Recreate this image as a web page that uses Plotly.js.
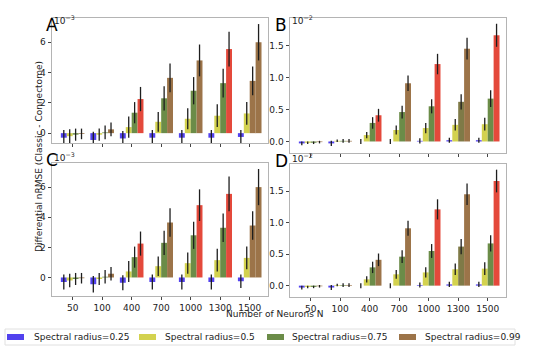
<!DOCTYPE html>
<html>
<head>
<meta charset="utf-8">
<script src="https://cdn.plot.ly/plotly-3.0.1.min.js"></script>
<style>html,body{margin:0;padding:0;background:#fff;}#chart{width:550px;height:350px;}</style>
</head>
<body>
<div id="chart"></div>
<script>
// Categories (number of neurons N)
const neurons = ['50', '100', '400', '700', '1000', '1300', '1500'];
const seriesNames = ['Spectral radius=0.25', 'Spectral radius=0.5', 'Spectral radius=0.75', 'Spectral radius=0.99'];

// Panels A and C: differential nRMSE, in units of 1e-3
const ac_sr025 = [-0.3, -0.45, -0.35, -0.3, -0.3, -0.3, -0.25];
const ac_sr025_err = [0.5, 0.55, 0.5, 0.5, 0.5, 0.5, 0.45];
const ac_sr05 = [-0.2, -0.1, 0.4, 0.75, 0.95, 1.15, 1.3];
const ac_sr05_err = [0.45, 0.4, 0.7, 0.65, 0.7, 0.75, 0.75];
const ac_sr075 = [-0.1, 0.05, 1.35, 2.3, 2.8, 3.3, 3.45];
const ac_sr075_err = [0.4, 0.45, 0.7, 0.8, 0.9, 0.95, 0.95];
const ac_sr099 = [-0.05, 0.25, 2.25, 3.65, 4.8, 5.55, 6.0];
const ac_sr099_err = [0.35, 0.45, 0.8, 0.95, 1.05, 1.15, 1.2];

// Panels B and D: differential nRMSE, in units of 1e-2
const bd_sr025 = [-0.03, -0.03, 0.0, 0.0, 0.01, 0.02, 0.02];
const bd_sr025_err = [0.03, 0.04, 0.04, 0.04, 0.04, 0.04, 0.04];
const bd_sr05 = [-0.02, 0.01, 0.1, 0.18, 0.21, 0.26, 0.27];
const bd_sr05_err = [0.02, 0.02, 0.05, 0.07, 0.08, 0.09, 0.1];
const bd_sr075 = [-0.02, 0.01, 0.29, 0.46, 0.55, 0.62, 0.67];
const bd_sr075_err = [0.02, 0.03, 0.09, 0.1, 0.11, 0.12, 0.13];
const bd_sr099 = [-0.01, 0.01, 0.41, 0.91, 1.21, 1.45, 1.66];
const bd_sr099_err = [0.02, 0.03, 0.1, 0.12, 0.16, 0.17, 0.18];

// Styles
const BLUE = '#5242ee', YELLOW = '#d3d24f', GREEN = '#6b8c48', BROWN = '#9c7449', RED = '#e4493b', OLIVE = '#7f7a47';
const panelColors = {
  A: [BLUE, YELLOW, [GREEN, GREEN, GREEN, GREEN, GREEN, GREEN, BROWN], [BROWN, BROWN, RED, BROWN, BROWN, RED, BROWN]],
  B: [BLUE, YELLOW, [GREEN, GREEN, GREEN, GREEN, GREEN, OLIVE, GREEN], [BROWN, BROWN, RED, BROWN, RED, BROWN, RED]],
  C: [BLUE, YELLOW, [GREEN, GREEN, GREEN, GREEN, GREEN, GREEN, BROWN], [BROWN, BROWN, RED, BROWN, RED, RED, BROWN]],
  D: [BLUE, YELLOW, [GREEN, GREEN, GREEN, GREEN, GREEN, OLIVE, GREEN], [BROWN, BROWN, BROWN, BROWN, RED, BROWN, RED]]
};
const legendColors = [BLUE, YELLOW, GREEN, BROWN];

const acVals = [ac_sr025, ac_sr05, ac_sr075, ac_sr099];
const acErrs = [ac_sr025_err, ac_sr05_err, ac_sr075_err, ac_sr099_err];
const bdVals = [bd_sr025, bd_sr05, bd_sr075, bd_sr099];
const bdErrs = [bd_sr025_err, bd_sr05_err, bd_sr075_err, bd_sr099_err];

const panels = [
  {key: 'A', x: 'x', y: 'y', vals: acVals, errs: acErrs},
  {key: 'B', x: 'x2', y: 'y2', vals: bdVals, errs: bdErrs},
  {key: 'C', x: 'x3', y: 'y3', vals: acVals, errs: acErrs},
  {key: 'D', x: 'x4', y: 'y4', vals: bdVals, errs: bdErrs}
];

const traces = [];
panels.forEach((p) => {
  for (let s = 0; s < 4; s++) {
    traces.push({
      type: 'bar',
      x: neurons,
      y: p.vals[s],
      xaxis: p.x,
      yaxis: p.y,
      name: seriesNames[s],
      showlegend: false,
      marker: {color: panelColors[p.key][s], line: {width: 0}},
      error_y: {type: 'data', array: p.errs[s], visible: true, color: '#1e1e1e', thickness: 1.3, width: 0},
      hoverinfo: 'skip'
    });
  }
});

const FONT = 'DejaVu Sans, sans-serif';
const tickFont = {family: FONT, size: 9, color: '#222'};
function xax(dom, showLabels) {
  return {
    domain: dom, type: 'category', range: [-0.7, 6.62], fixedrange: true,
    showline: true, mirror: true, linecolor: '#b4b4b4', linewidth: 1,
    ticks: 'outside', ticklen: 3, tickcolor: '#444', tickwidth: 1,
    showticklabels: showLabels, tickfont: tickFont, showgrid: false, zeroline: false
  };
}
function yax(dom, range, tv, fmt, anchor) {
  return {
    domain: dom, range: range, anchor: anchor, tickvals: tv, tickformat: fmt,
    showline: true, mirror: true, linecolor: '#b4b4b4', linewidth: 1,
    ticks: 'outside', ticklen: 3.5, tickcolor: '#444', tickwidth: 1,
    tickfont: tickFont, showgrid: false, zeroline: false
  };
}

const W = 550, H = 350;
const px = v => v / W, py = v => 1 - v / H;

// Custom legend (bottom row)
const legendPatchX = [7, 139, 267, 399];
const legendTextX = [32, 163, 290, 423];
const legendY = 337;
const shapes = [
  {type: 'rect', xref: 'paper', yref: 'paper', x0: px(5), x1: px(515), y0: py(345), y1: py(329),
   line: {color: '#e0e0e0', width: 1}, fillcolor: 'rgba(255,255,255,0)'}
];
const annotations = [];
for (let s = 0; s < 4; s++) {
  shapes.push({type: 'rect', xref: 'paper', yref: 'paper',
    x0: px(legendPatchX[s]), x1: px(legendPatchX[s] + 17), y0: py(legendY + 3), y1: py(legendY - 3),
    line: {width: 0}, fillcolor: legendColors[s]});
  annotations.push({text: seriesNames[s], x: px(legendTextX[s]), xanchor: 'left', y: py(legendY), yanchor: 'middle',
    xref: 'paper', yref: 'paper', showarrow: false, font: {family: FONT, size: 9, color: '#222'}});
}

const letterFont = {family: FONT, size: 17, color: '#000'};
const expFont = {family: FONT, size: 9, color: '#222'};
annotations.push(
  {text: 'A', x: px(44), y: py(13), xref: 'paper', yref: 'paper', showarrow: false, font: letterFont},
  {text: 'B', x: px(281), y: py(13), xref: 'paper', yref: 'paper', showarrow: false, font: letterFont},
  {text: 'C', x: px(44), y: py(160), xref: 'paper', yref: 'paper', showarrow: false, font: letterFont},
  {text: 'D', x: px(281), y: py(161), xref: 'paper', yref: 'paper', showarrow: false, font: letterFont},
  {text: '10<sup>−3</sup>', x: px(52), xanchor: 'left', y: py(12), xref: 'paper', yref: 'paper', showarrow: false, font: expFont},
  {text: '10<sup>−2</sup>', x: px(290), xanchor: 'left', y: py(12), xref: 'paper', yref: 'paper', showarrow: false, font: expFont},
  {text: '10<sup>−3</sup>', x: px(52), xanchor: 'left', y: py(157), xref: 'paper', yref: 'paper', showarrow: false, font: expFont},
  {text: '10<sup>−2</sup>', x: px(290), xanchor: 'left', y: py(158), xref: 'paper', yref: 'paper', showarrow: false, font: expFont},
  {text: 'Differential nRMSE (Classic - Connectome)', textangle: -90, x: px(32), y: py(157), xref: 'paper', yref: 'paper', showarrow: false, font: {family: FONT, size: 9, color: '#222'}},
  {text: 'Number of Neurons N', x: px(275), y: py(321), xref: 'paper', yref: 'paper', showarrow: false, font: {family: FONT, size: 9, color: '#222'}}
);

const layout = {
  width: W, height: H,
  margin: {l: 0, r: 0, t: 0, b: 0, autoexpand: false},
  paper_bgcolor: '#fff', plot_bgcolor: '#fff',
  barmode: 'group', bargap: 0.2, bargroupgap: 0,
  showlegend: false,
  xaxis: Object.assign(xax([px(52), px(268)], false), {anchor: 'y'}),
  yaxis: yax([py(143), py(18)], [-0.65, 7.6], [0, 2, 4, 6], 'd', 'x'),
  xaxis2: Object.assign(xax([px(290), px(506)], false), {anchor: 'y2'}),
  yaxis2: yax([py(153), py(18)], [-0.18, 1.93], [0, 0.5, 1.0, 1.5], '.1f', 'x2'),
  xaxis3: Object.assign(xax([px(52), px(268)], true), {anchor: 'y3'}),
  yaxis3: yax([py(296), py(163)], [-1.23, 7.6], [0, 2, 4, 6], 'd', 'x3'),
  xaxis4: Object.assign(xax([px(290), px(506)], true), {anchor: 'y4'}),
  yaxis4: yax([py(297), py(164)], [-0.18, 1.93], [0, 0.5, 1.0, 1.5], '.1f', 'x4'),
  shapes: shapes,
  annotations: annotations
};

Plotly.newPlot('chart', traces, layout, {staticPlot: true, displayModeBar: false});
</script>
</body>
</html>
